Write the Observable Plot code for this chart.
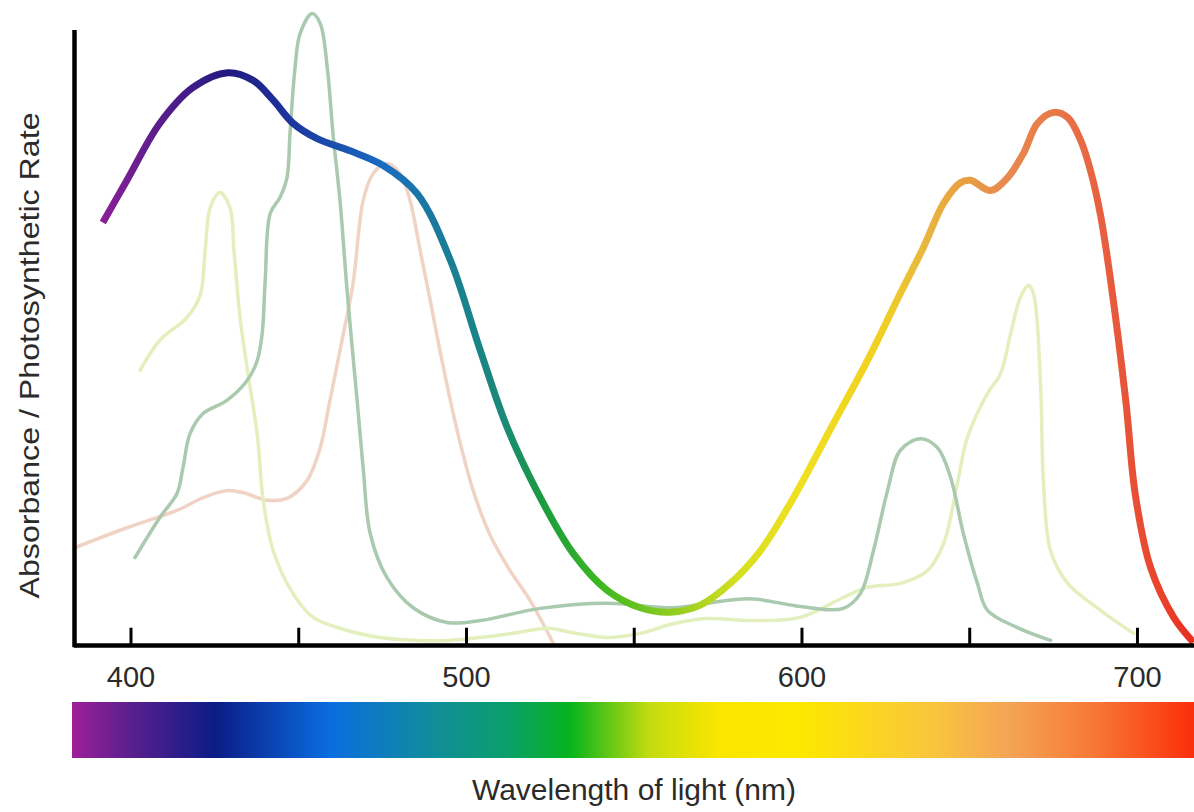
<!DOCTYPE html>
<html><head><meta charset="utf-8">
<script src="https://cdn.jsdelivr.net/npm/d3@7"></script>
<script src="https://cdn.jsdelivr.net/npm/@observablehq/plot@0.6"></script>
<style>
body{margin:0;background:#fff;font-family:"Liberation Sans",Arial,sans-serif;}
#chart{position:relative;width:1194px;height:812px;overflow:hidden;}
#xlabel{position:absolute;left:74px;width:1120px;top:773px;text-align:center;font-size:30px;color:#2b2b2b;}
</style></head><body><div id="chart"></div>
<script>
// ---- data (wavelength in nm, relative absorbance 0-100) ----
const mainNm = [391.6,398.8,408.6,418.5,428.9,436.4,442.4,448.3,455.5,465.3,475.2,485.3,495.2,504.1,512.1,522.0,531.8,542.0,551.8,560.7,569.7,578.6,587.6,596.5,609.4,619.5,629.3,636.2,642.2,647.2,650.2,656.2,661.3,666.0,670.2,675.0,679.2,683.1,686.0,689.0,692.0,696.5,699.4,703.9,710.8,716.7];
const mainVal = [66.1,72.7,81.6,87.2,89.5,88.3,85.2,81.6,79.2,77.3,75.0,70.6,60.2,46.1,34.1,23.1,14.4,8.6,5.9,5.2,6.3,9.7,14.8,22.2,34.7,44.5,55.0,62.2,69.1,72.3,72.7,71.1,73.1,76.9,81.6,83.3,82.5,78.9,74.2,67.2,57.0,38.3,23.4,12.2,4.4,0.5];

const chlBNm = [401.2,408.6,413.7,415.5,417.6,421.5,428.6,434.6,437.6,439.1,440.0,441.5,444.4,446.5,447.4,448.9,450.4,454.0,456.4,458.5,460.2,462.3,464.4,467.4,469.2,471.3,476.3,484.1,494.2,504.1,522.0,542.0,561.6,571.8,584.6,599.5,612.3,617.4,621.3,625.5,629.3,635.3,640.4,644.3,648.1,652.3,655.3,664.2,674.1];
const chlBVal = [13.75,20.0,23.75,27.8,33.1,36.25,38.3,41.4,44.5,48.75,57.0,67.5,70.0,73.1,80.0,90.3,95.6,98.75,97.2,90.3,80.0,69.5,55.5,38.3,27.8,17.5,10.6,5.9,3.6,3.9,5.8,6.6,5.9,6.6,7.3,6.1,5.8,8.1,14.8,24.2,30.5,32.3,30.9,26.25,17.5,9.7,5.5,2.8,0.8];

const chlANm = [402.7,408.6,416.7,420.6,422.1,423.6,426.5,429.5,430.7,432.5,434.6,437.6,439.4,442.4,448.3,454.3,462.3,474.3,494.2,513.9,524.1,531.8,542.0,551.8,561.6,571.8,584.6,599.5,612.3,619.5,629.3,637.4,642.2,646.3,649.3,655.3,659.2,662.2,665.1,667.5,669.0,671.1,672.0,674.1,679.2,689.0,698.8];
const chlAVal = [43.0,47.7,51.25,54.7,61.7,68.4,70.8,68.4,61.7,51.25,43.4,33.1,22.7,14.8,8.1,4.4,2.7,1.25,0.8,1.9,2.7,2.0,1.25,1.9,3.4,4.2,3.9,4.4,7.5,9.1,9.7,11.7,15.9,25.3,32.5,39.4,42.5,48.75,54.4,56.25,55.0,40.9,25.3,14.8,9.7,5.5,1.9];

const carotNm = [383.3,398.8,413.7,421.5,428.6,433.4,440.6,446.5,452.5,456.4,459.3,462.3,466.2,469.2,472.2,476.3,480.2,483.2,486.2,489.2,492.2,497.2,502.0,507.1,513.0,519.0,525.9];
const carotVal = [15.3,18.4,21.1,23.1,24.2,23.9,22.7,23.0,25.8,30.9,38.3,46.1,56.6,69.5,73.75,75.3,73.75,69.5,61.7,53.9,45.8,33.6,24.2,17.2,11.7,7.0,0.3];

// colour stops for the main curve and for the spectrum bar
const curveStopNm = [391,429,450,475,493,511,522,540,561,582,600,624,636,648,660,675,689,704,716];
const curveStopCol = ["#8a2096","#201a80","#1c3aa0","#1a6cc0","#1a7c98","#1a8a78","#1a9a40","#3cb820","#90cc20","#d8e020","#f0e020","#f0d020","#e8b840","#e8a040","#e88a50","#e87848","#e86040","#e84830","#e83020"];
const specStopNm = [383.2,399.9,425.2,459.5,489.3,513.1,531.0,554.8,575.7,599.5,638.3,662.1,689.0,717.0];
const specStopCol = ["#9a1f98","#5b1f8e","#0b1c86","#0a6de0","#108c9c","#0aa068","#06b41c","#c4dc10","#fbe600","#fde800","#f9c63c","#f4a456","#f87434","#fb2e0a"];

const xDomain = [383.16, 717.0];
const minorTicks = [400,450,500,550,600,650,700];
const tickLabels = [400,500,600,700];
const yLabel = "Absorbance / Photosynthetic Rate";
const xLabel = "Wavelength of light (nm)";

const toRows = (xs, ys) => xs.map((x, i) => ({x, y: ys[i]}));
const main = toRows(mainNm, mainVal);
const chlB = toRows(chlBNm, chlBVal);
const chlA = toRows(chlANm, chlAVal);
const carot = toRows(carotNm, carotVal);

const font = '"Liberation Sans", Arial, sans-serif';

const plot = Plot.plot({
  width: 1194, height: 700,
  marginTop: 5, marginBottom: 55, marginLeft: 74, marginRight: 0,
  style: {fontFamily: font, background: "white", overflow: "visible"},
  x: {domain: xDomain},
  y: {domain: [0, 100], axis: null},
  marks: [
    Plot.line(carot, {x: "x", y: "y", stroke: "#f0d3c5", strokeWidth: 3.5, curve: "catmull-rom"}),
    Plot.line(chlA, {x: "x", y: "y", stroke: "#e3f0bd", strokeWidth: 3.5, curve: "catmull-rom"}),
    Plot.line(chlB, {x: "x", y: "y", stroke: "#a9caae", strokeWidth: 3.5, curve: "catmull-rom"}),
    Plot.line(main, {x: "x", y: "y", stroke: "url(#curveGrad)", strokeWidth: 7, curve: "catmull-rom", strokeLinecap: "butt"}),
    Plot.ruleX(minorTicks, {y1: 0, y2: 2.7, stroke: "#000", strokeWidth: 3}),
    Plot.ruleY([0], {stroke: "#000", strokeWidth: 4.5}),
    Plot.ruleX([xDomain[0]], {y1: -0.35, y2: 96.1, stroke: "#000", strokeWidth: 4.5}),
    Plot.axisX(tickLabels, {tickSize: 0, tickPadding: 21, fontSize: 29, fill: "#2b2b2b", label: null}),
    Plot.text([yLabel], {frameAnchor: "left", textAnchor: "middle", rotate: -90, dx: -44, dy: 30, fontSize: 28, fill: "#2b2b2b"})
  ]
});
// stretch the y-axis title to the reference's length
d3.select(plot).selectAll("text")
  .filter(function () { return this.textContent === yLabel; })
  .attr("textLength", 486).attr("lengthAdjust", "spacingAndGlyphs");

function addGradient(svg, scale, id, nms, cols) {
  let defs = d3.select(svg).select("defs");
  if (defs.empty()) defs = d3.select(svg).insert("defs", ":first-child");
  const lo = nms[0], hi = nms[nms.length - 1];
  const g = defs.append("linearGradient").attr("id", id)
    .attr("gradientUnits", "userSpaceOnUse")
    .attr("x1", scale.apply(lo)).attr("x2", scale.apply(hi))
    .attr("y1", 0).attr("y2", 0);
  nms.forEach((n, i) => g.append("stop").attr("offset", (n - lo) / (hi - lo)).attr("stop-color", cols[i]));
}
addGradient(plot, plot.scale("x"), "curveGrad", curveStopNm, curveStopCol);

const spectrum = [{x1: xDomain[0], x2: xDomain[1]}];
const bar = Plot.plot({
  width: 1194, height: 60,
  marginTop: 2, marginBottom: 2, marginLeft: 74, marginRight: 0,
  style: {fontFamily: font, background: "white", overflow: "visible"},
  x: {domain: xDomain, axis: null},
  y: {axis: null},
  marks: [
    Plot.rect(spectrum, {x1: "x1", x2: "x2", fill: "url(#specGrad)", insetLeft: -2})
  ]
});
addGradient(bar, bar.scale("x"), "specGrad", specStopNm, specStopCol);

const chart = document.getElementById("chart");
chart.appendChild(plot);
chart.appendChild(bar);
const lab = document.createElement("div");
lab.id = "xlabel";
lab.textContent = xLabel;
chart.appendChild(lab);
</script>
</body></html>
